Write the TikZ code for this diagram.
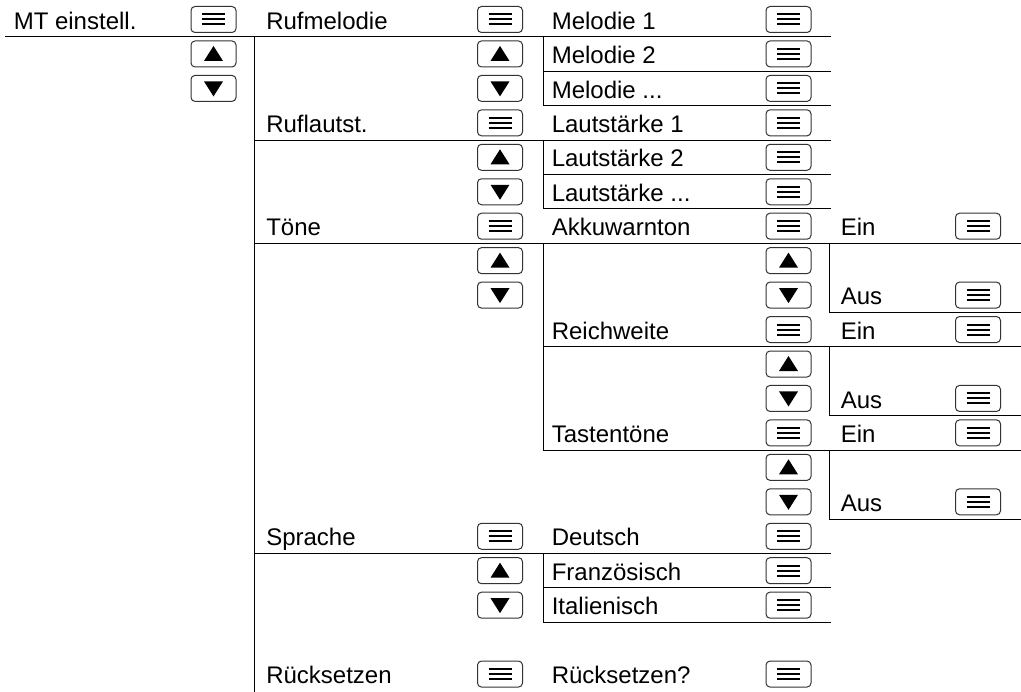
\documentclass[tikz,border=0pt]{standalone}
\usepackage{fontspec}
\setmainfont{Liberation Sans}
\usetikzlibrary{calc}
\newcommand{\tdots}{...}

\begin{document}
\begin{tikzpicture}[
  x=0.75pt, y=-0.75pt,
  font=\fontsize{18}{21}\selectfont,
  item/.style={anchor=west,inner sep=0pt,text height=12.9pt,text depth=0pt,yshift=-0.8pt},
  key/.style={draw=black!80,line width=0.75pt,rounded corners=3pt,minimum width=33.75pt,minimum height=19.5pt,inner sep=0pt},
  bar/.style={line width=1.5pt},
  rule/.style={line width=0.75pt,line cap=rect}
]
\useasboundingbox (0,0) rectangle (1021,692);

% rows (r) and the rules between them (b)
\foreach \i in {0,...,19} {
  \coordinate (r\i) at (0,{19.5+34.45*\i});
  \coordinate (b\i) at (0,{36.7+34.45*\i});
}
\coordinate (bot) at (0,692);
% columns: text start, key centre
\foreach \c/\t/\k in {a/13.5/213.5, b/266/500, c/551.5/788.5, d/840.5/978} {
  \coordinate (t\c) at (\t,0);
  \coordinate (k\c) at (\k,0);
}
\coordinate (l0) at (5,0);
\coordinate (v1) at (254.5,0);
\coordinate (v2) at (543,0);
\coordinate (v3) at (829,0);
\coordinate (e3) at (830,0);
\coordinate (e4) at (1021,0);

% menu entries
\foreach \c/\r/\txt in {a/0/MT einstell.,
    b/0/Rufmelodie, b/3/Ruflautst., b/6/Töne, b/15/Sprache, b/19/Rücksetzen,
    c/0/Melodie 1, c/1/Melodie 2, c/2/Melodie \tdots, c/3/Lautstärke 1,
    c/4/Lautstärke 2, c/5/Lautstärke \tdots, c/6/Akkuwarnton, c/9/Reichweite,
    c/12/Tastentöne, c/15/Deutsch, c/16/Französisch, c/17/Italienisch,
    c/19/Rücksetzen?,
    d/6/Ein, d/8/Aus, d/9/Ein, d/11/Aus, d/12/Ein, d/14/Aus}
  \node[item] (t\c\r) at (t\c |- r\r) {\txt};

% OK keys
\foreach \c/\r in {a/0, b/0, b/3, b/6, b/15, b/19,
    c/0, c/1, c/2, c/3, c/4, c/5, c/6, c/9, c/12, c/15, c/16, c/17, c/19,
    d/6, d/8, d/9, d/11, d/12, d/14} {
  \node[key] (k\c\r) at (k\c |- r\r) {};
  \foreach \d in {-5,0,5}
    \draw[bar] ($(k\c\r)+(-11.5,\d)$) -- ++(23,0);
}
% up keys
\foreach \c/\r in {a/1, b/1, b/4, b/7, b/16, c/7, c/10, c/13} {
  \node[key] (k\c\r) at (k\c |- r\r) {};
  \fill ($(k\c\r)+(-9.5,7)$) -- ++(19,0) -- ++(-9.5,-15) -- cycle;
}
% down keys
\foreach \c/\r in {a/2, b/2, b/5, b/8, b/17, c/8, c/11, c/14} {
  \node[key] (k\c\r) at (k\c |- r\r) {};
  \fill ($(k\c\r)+(-9.5,-7)$) -- ++(19,0) -- ++(-9.5,15) -- cycle;
}

% rules
\foreach \u/\v/\uu/\vv in {
    l0/b0/e3/b0, v1/b0/v1/bot, v2/b0/v2/b2, v2/b1/e3/b1, v2/b2/e3/b2,
    v1/b3/e3/b3, v2/b3/v2/b5, v2/b4/e3/b4, v2/b5/e3/b5,
    v1/b6/e4/b6, v2/b6/v2/b12, v3/b6/v3/b8, v3/b8/e4/b8,
    v2/b9/e4/b9, v3/b9/v3/b11, v3/b11/e4/b11,
    v2/b12/e4/b12, v3/b12/v3/b14, v3/b14/e4/b14,
    v1/b15/e3/b15, v2/b15/v2/b17, v2/b16/e3/b16, v2/b17/e3/b17}
  \draw[rule] (\u |- \v) -- (\uu |- \vv);
\end{tikzpicture}
\end{document}
